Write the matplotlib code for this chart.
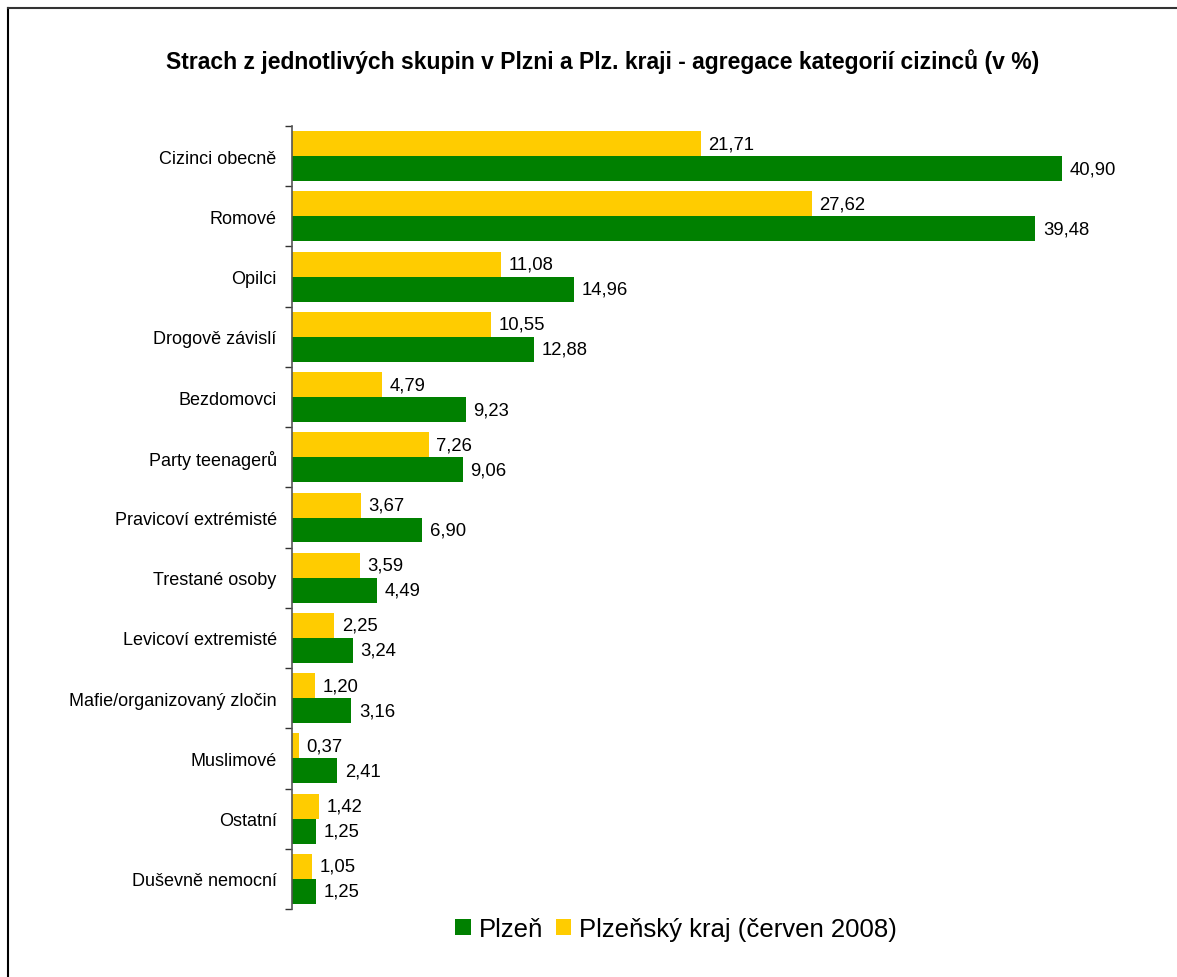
import matplotlib
matplotlib.use("Agg")
import matplotlib.pyplot as plt
from matplotlib.lines import Line2D
from matplotlib.patches import Patch
import numpy as np

plt.rcParams['font.family'] = ['Liberation Sans', 'DejaVu Sans']

categories = ["Cizinci obecně", "Romové", "Opilci", "Drogově závislí", "Bezdomovci",
              "Party teenagerů", "Pravicoví extrémisté", "Trestané osoby",
              "Levicoví extremisté", "Mafie/organizovaný zločin", "Muslimové",
              "Ostatní", "Duševně nemocní"]
plzen = [40.90, 39.48, 14.96, 12.88, 9.23, 9.06, 6.90, 4.49, 3.24, 3.16, 2.41, 1.25, 1.25]
kraj = [21.71, 27.62, 11.08, 10.55, 4.79, 7.26, 3.67, 3.59, 2.25, 1.20, 0.37, 1.42, 1.05]

title = "Strach z jednotlivých skupin v Plzni a Plz. kraji - agregace kategorií cizinců (v %)"
legend_labels = ["Plzeň", "Plzeňský kraj (červen 2008)"]

GREEN = "#008000"
YELLOW = "#FFCC00"

W, H = 1177, 978
fig = plt.figure(figsize=(W / 100, H / 100), dpi=100)
ax = fig.add_axes([292 / W, 1 - 910 / H, (1139 - 292) / W, (910 - 127) / H])

n = len(categories)
y = np.arange(n)
bh = 0.415
ax.barh(y - bh / 2, kraj, height=bh, color=YELLOW, align='center')
ax.barh(y + bh / 2, plzen, height=bh, color=GREEN, align='center')

fmt = lambda v: f"{v:.2f}".replace('.', ',')
for i in range(n):
    ax.annotate(fmt(kraj[i]), (kraj[i], y[i] - bh / 2), xytext=(5.5, 0),
                textcoords='offset points', va='center', ha='left', fontsize=13.3)
    ax.annotate(fmt(plzen[i]), (plzen[i], y[i] + bh / 2), xytext=(5.5, 0),
                textcoords='offset points', va='center', ha='left', fontsize=13.3)

ax.set_ylim(n - 0.5, -0.5)
ax.set_xlim(0, 45)
ax.set_yticks(y)
ax.set_yticklabels(categories, fontsize=13)
ax.set_yticks(np.arange(n + 1) - 0.5, minor=True)
ax.tick_params(axis='y', which='major', length=0, pad=11)
ax.tick_params(axis='y', which='minor', length=5, width=1, color='#333333', direction='out')
ax.set_xticks([])
for s in ['top', 'right', 'bottom']:
    ax.spines[s].set_visible(False)
ax.spines['left'].set_color('#555555')
ax.spines['left'].set_linewidth(1.2)

fig.text(603 / W, 1 - 62 / H, title, ha='center', va='center', fontsize=16.5, fontweight='bold')

handles = [Patch(facecolor=GREEN, edgecolor='none'), Patch(facecolor=YELLOW, edgecolor='none')]
fig.legend(handles, legend_labels, loc='center', bbox_to_anchor=(676 / W, 1 - 930 / H),
           ncol=2, frameon=False, fontsize=18.5, handlelength=0.6, handleheight=0.6,
           handletextpad=0.3, columnspacing=0.5)

# figure border (left and top visible)
fig.add_artist(Line2D([8 / W, 8 / W], [0, 1 - 9 / H], transform=fig.transFigure, color='black', lw=1.5))
fig.add_artist(Line2D([8 / W, 1], [1 - 9 / H, 1 - 9 / H], transform=fig.transFigure, color='#333333', lw=1.5))

fig.savefig("out.png", dpi=100)
